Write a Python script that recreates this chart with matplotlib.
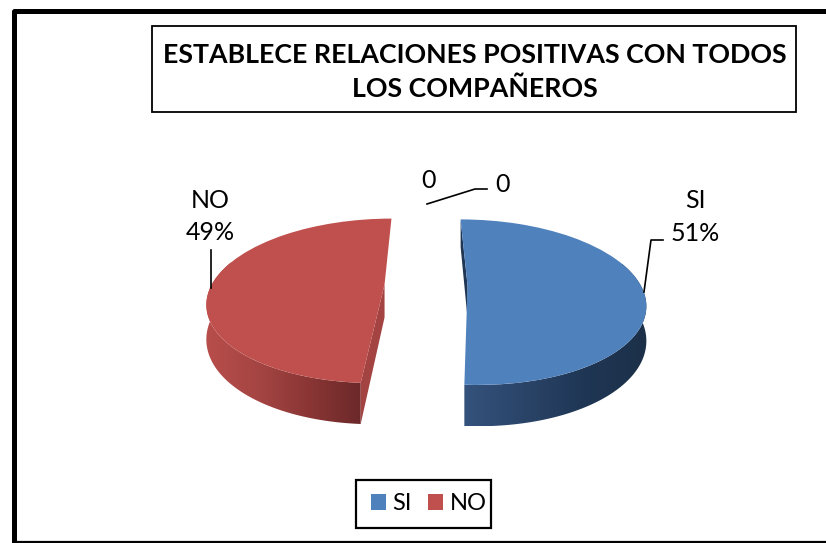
import numpy as np
import matplotlib
matplotlib.use("Agg")
import matplotlib.pyplot as plt
from matplotlib.patches import Rectangle, Polygon
from matplotlib.transforms import Transform
from matplotlib.colors import LinearSegmentedColormap

# ---- data ----
categories = ["SI", "NO", "", ""]
values = [51, 49, 0, 0]
slice_colors = ["#4F81BD", "#C0504D", "#9BBB59", "#8064A2"]
value_labels = ["SI\n51%", "NO\n49%", "0", "0"]
title_text = "ESTABLECE RELACIONES POSITIVAS CON TODOS\nLOS COMPAÑEROS"

plt.rcParams["font.family"] = ["Lato", "DejaVu Sans"]

# ---- 3D look of the pie ----
CX, CY = 426.0, 285.0      # where the pie centre falls on the page
SX, SY = 173.0, 79.2       # half axes
PERSP = 0.2
DEPTH = 33.0


def project(u, v, depth=0.0):
    w = 1.0 + PERSP * np.asarray(v)
    return CX + SX * np.asarray(u) / w, CY - SY * np.asarray(v) / w + depth * DEPTH / w


class PieProjection(Transform):
    input_dims = 2
    output_dims = 2
    is_separable = False
    has_inverse = False

    def transform_non_affine(self, xy):
        xy = np.asarray(xy, dtype=float)
        x, y = project(xy[:, 0], xy[:, 1])
        return np.column_stack([x, y])


fig = plt.figure(figsize=(8.26, 5.43), dpi=100, facecolor="white")
ax = fig.add_axes([0, 0, 1, 1])

wedges, _ = ax.pie(
    values,
    colors=slice_colors,
    explode=[0.24, 0.24, 0, 0],
    startangle=90,
    counterclock=False,
    frame=True,
)
ax.set_aspect("auto")
ax.set_xlim(0, 826)
ax.set_ylim(543, 0)
ax.axis("off")

proj = PieProjection()


def arc_points(w, depth, n=200):
    # only the part of the rim that faces the viewer
    t = np.radians(np.linspace(w.theta1, w.theta2, n))
    t = t[np.sin(t) < 0.3]
    u = w.center[0] + w.r * np.cos(t)
    v = w.center[1] + w.r * np.sin(t)
    return np.column_stack(project(u, v, depth))


def radial_face(w, angle):
    t = np.radians(angle)
    ou, ov = w.center[0] + w.r * np.cos(t), w.center[1] + w.r * np.sin(t)
    cu, cv = w.center
    pts = [project(cu, cv, 0), project(ou, ov, 0), project(ou, ov, 1), project(cu, cv, 1)]
    return np.array(pts)


side_cmaps = [
    LinearSegmentedColormap.from_list("b", ["#34527C", "#2A4468", "#1F3654", "#1C3048"]),
    LinearSegmentedColormap.from_list("r", ["#B84E4B", "#A54543", "#8A3635", "#6C2829"]),
]
inner_colors = ["#1F3654", "#A34442"]

for i, w in enumerate(wedges):
    if values[i] == 0:
        w.set_visible(False)
        continue
    top = arc_points(w, 0)
    bottom = arc_points(w, 1)
    outline = np.vstack([top, bottom[::-1]])
    x0, x1 = outline[:, 0].min(), outline[:, 0].max()
    clip = Polygon(outline, closed=True, transform=ax.transData)
    im = ax.imshow(
        np.linspace(0, 1, 256).reshape(1, -1),
        cmap=side_cmaps[i],
        extent=(x0, x1, outline[:, 1].max(), outline[:, 1].min()),
        aspect="auto",
        zorder=1,
    )
    im.set_clip_path(clip)
    # flat face of the cut
    ax.add_patch(Polygon(radial_face(w, w.theta2), closed=True, facecolor=inner_colors[i],
                         edgecolor="none", zorder=2))
    w.set_transform(proj + ax.transData)
    w.set_edgecolor("none")
    w.set_zorder(3)

ax.set_xlim(0, 826)
ax.set_ylim(543, 0)

# ---- outer chart frame ----
ax.plot([13.5, 13.5, 826], [543, 10.5, 10.5], color="black", lw=3.6, solid_joinstyle="round", zorder=5)
ax.plot([13.5, 826], [541.5, 541.5], color="black", lw=1.6, zorder=5)

# ---- title ----
ax.add_patch(Rectangle((152, 26), 644, 86, facecolor="white", edgecolor="black", lw=1.3, zorder=5))
ax.text(474.5, 72, title_text, ha="center", va="center", fontsize=19.3, fontweight="bold",
        linespacing=1.44, color="black", zorder=6)

# ---- data labels and leader lines ----
ax.text(695, 217, value_labels[0], ha="center", va="center", fontsize=18, linespacing=1.53, zorder=6)
ax.text(210, 216.5, value_labels[1], ha="center", va="center", fontsize=18, linespacing=1.45, zorder=6)
ax.text(429, 180, value_labels[2], ha="center", va="center", fontsize=18, zorder=6)
ax.text(502, 184, value_labels[3], ha="center", va="center", fontsize=18, zorder=6)

ax.plot([644, 651, 663], [292, 240, 240], color="black", lw=1.2, zorder=6)
ax.plot([211, 211], [288, 250], color="black", lw=1.2, zorder=6)
ax.plot([427, 475, 487], [204, 189, 189], color="black", lw=1.2, zorder=6)

# ---- legend ----
ax.add_patch(Rectangle((356, 480), 135, 48, facecolor="white", edgecolor="black", lw=1.6, zorder=5))
leg = ax.legend(
    wedges[:2], categories[:2],
    loc="center", bbox_to_anchor=(428.5 / 826, 1 - 504 / 543),
    ncol=2, frameon=False, fontsize=17,
    handlelength=0.64, handleheight=0.64, handletextpad=0.26, columnspacing=0.72,
    borderpad=0, borderaxespad=0,
)
leg.set_zorder(6)

fig.savefig("out.png", dpi=100)
